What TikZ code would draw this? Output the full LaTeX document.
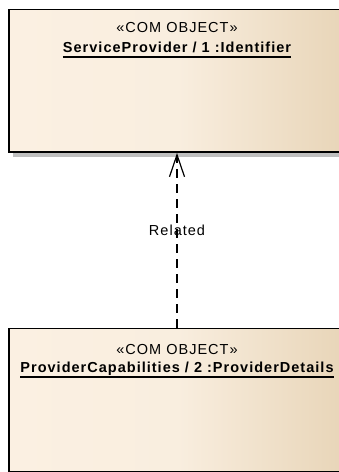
\documentclass[tikz,border=0pt]{standalone}
\usepackage{fontspec}
\setmainfont{Liberation Sans}[LetterSpace=7]
\usetikzlibrary{arrows.meta,shadows}

% underlined object name with a heavier rule
\newcommand\objunder[1]{\setbox0\hbox{#1}\rlap{\copy0}\rule[-4.8pt]{\wd0}{1.3pt}}

\definecolor{objL}{HTML}{FBF0E2}
\definecolor{objM}{HTML}{F9EEDF}
\definecolor{objR}{HTML}{E8D5B8}
\definecolor{shadowgray}{HTML}{BFBFBF}

% light cream on the left, deepening to tan on the right
\pgfdeclarehorizontalshading{objfill}{100bp}{%
  color(0bp)=(objL); color(25bp)=(objL); color(50bp)=(objM);
  color(75bp)=(objR); color(100bp)=(objR)}

\tikzset{
  objbox/.style={draw=black, line width=1.4pt, shading=objfill,
    anchor=north, minimum width=336pt, inner sep=0pt,
    drop shadow={shadow xshift=4pt, shadow yshift=-5pt,
      fill=shadowgray, opacity=1}},
  stereo/.style={anchor=base, inner sep=0pt, font=\fontsize{14.5}{17}\selectfont},
  objname/.style={anchor=base, inner sep=0pt, font=\fontsize{14.5}{17}\selectfont\bfseries},
  linklabel/.style={anchor=base, inner sep=0pt, font=\fontsize{14.5}{17}\selectfont},
  dependency/.style={line width=1.2pt, dash pattern=on 9pt off 6pt,
    -{Straight Barb[length=22pt, width=15pt, line width=1.2pt]}}
}

\begin{document}
\begin{tikzpicture}[x=1pt, y=1pt]
  \useasboundingbox (0,0) rectangle (339,472);
  \fill[white] (0,0) rectangle (339,472);

  % object boxes
  \node[objbox, minimum height=142.5pt] (top) at (177,463) {};
  \node[objbox, minimum height=142.5pt] (bot) at (177,144) {};

  % labels of the upper object
  \node[stereo]  (topst) at (177,439) {«COM OBJECT»};
  \node[objname] (topnm) at (177,419) {\objunder{ServiceProvider / 1 :Identifier}};

  % labels of the lower object
  \node[stereo]  (botst) at (177,117) {«COM OBJECT»};
  \node[objname] (botnm) at (177,99) {\objunder{ProviderCapabilities / 2 :ProviderDetails}};

  % dependency between the objects
  \draw[dependency] (bot.north) -- (top.south);
  \node[linklabel] (rel) at (177,236.5) {Related};
\end{tikzpicture}
\end{document}
